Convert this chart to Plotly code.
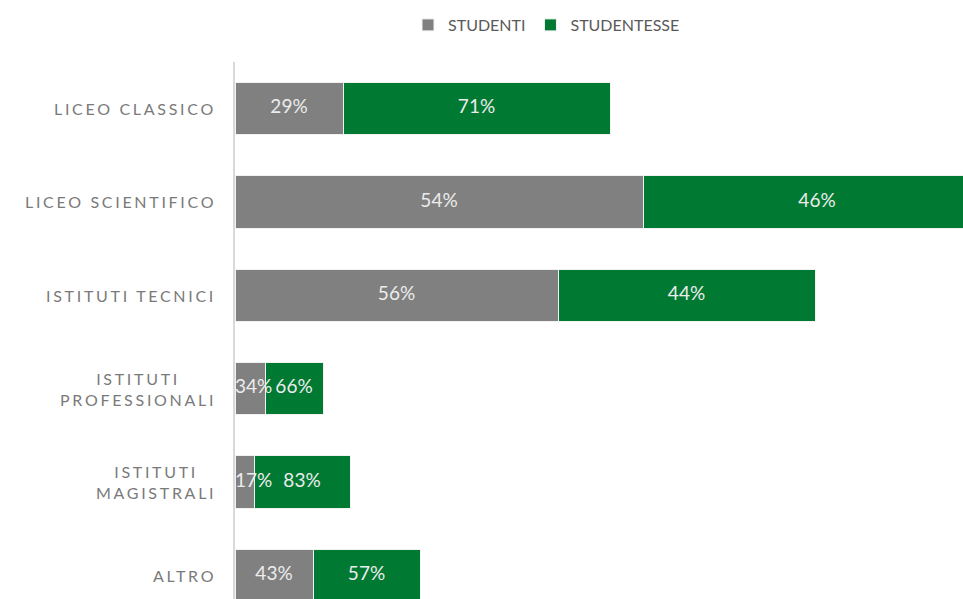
import plotly.graph_objects as go

categories = ["LICEO CLASSICO", "LICEO SCIENTIFICO", "ISTITUTI TECNICI",
              "ISTITUTI PROFESSIONALI", "ISTITUTI MAGISTRALI", "ALTRO"]
category_labels = ["LICEO CLASSICO", "LICEO SCIENTIFICO", "ISTITUTI TECNICI",
                   "ISTITUTI<br>PROFESSIONALI", "ISTITUTI<br>MAGISTRALI", "ALTRO"]
studenti = [108, 408, 323, 30, 19, 78]
studentesse = [267, 348, 257, 58, 96, 107]
pct_studenti = ["29%", "54%", "56%", "34%", "17%", "43%"]
pct_studentesse = ["71%", "46%", "44%", "66%", "83%", "57%"]

FONT = "Lato, 'Open Sans', sans-serif"
GRAY = "#808080"
GREEN = "#007A33"
LABEL_COLOR = "#ececec"
XMAX = 728
MIN_FIT = 40  # bars shorter than this get their label pushed right of the axis

fig = go.Figure()
fig.add_trace(go.Bar(
    y=categories, x=studenti, orientation="h", name="STUDENTI",
    marker=dict(color=GRAY, line=dict(color="#f2f2f2", width=1)),
    width=0.56, hoverinfo="skip",
))
fig.add_trace(go.Bar(
    y=categories, x=studentesse, orientation="h", name="STUDENTESSE",
    marker=dict(color=GREEN, line=dict(color="#f2f2f2", width=1)),
    width=0.56, hoverinfo="skip",
))

# data labels positioned at the centre of each segment
gray_x = [s / 2 if s >= MIN_FIT else 0 for s in studenti]
gray_pos = ["middle center" if s >= MIN_FIT else "middle right" for s in studenti]
green_x = [s + f / 2 for s, f in zip(studenti, studentesse)]
fig.add_trace(go.Scatter(
    x=gray_x, y=categories, mode="text", text=pct_studenti, textposition=gray_pos,
    textfont=dict(color=LABEL_COLOR, size=19, family=FONT),
    showlegend=False, cliponaxis=False, hoverinfo="skip",
))
fig.add_trace(go.Scatter(
    x=green_x, y=categories, mode="text", text=pct_studentesse, textposition="middle center",
    textfont=dict(color=LABEL_COLOR, size=19, family=FONT),
    showlegend=False, cliponaxis=False, hoverinfo="skip",
))

for cat, lab in zip(categories, category_labels):
    fig.add_annotation(
        x=-17 / XMAX, xref="paper", y=cat, yref="y",
        text='<span style="letter-spacing:2.7px">' + lab + '</span>',
        showarrow=False, xanchor="right", yanchor="middle", align="center",
        font=dict(family=FONT, size=16, color="#7a7a7a"),
    )

fig.update_layout(
    width=963, height=599,
    margin=dict(l=235, r=0, t=62, b=0),
    barmode="stack",
    plot_bgcolor="white", paper_bgcolor="white",
    showlegend=True,
    legend=dict(orientation="h", x=(408 - 235) / XMAX, xanchor="left",
                y=1 - 25 / 599, yref="container", yanchor="middle",
                font=dict(family=FONT, size=16, color="#595959"),
                traceorder="normal"),
    xaxis=dict(range=[0, XMAX], showgrid=False, zeroline=False, showticklabels=False,
               showline=False, fixedrange=True),
    yaxis=dict(type="category", range=[5.254, -0.5], showgrid=False, zeroline=False,
               showticklabels=False, showline=True, linecolor="#d9d9d9", linewidth=2,
               ticks="", fixedrange=True),
)

fig.write_html("out.html", config={"displayModeBar": False},
               post_script="document.body.style.margin='0';")
